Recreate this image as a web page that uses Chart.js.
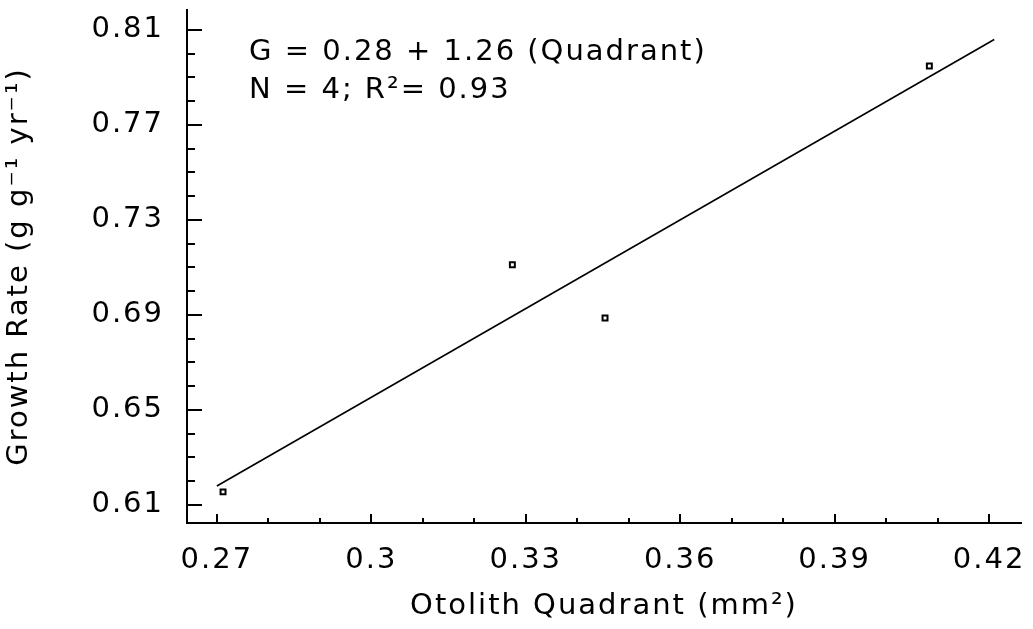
<!DOCTYPE html>
<html>
<head>
<meta charset="utf-8">
<script src="https://cdn.jsdelivr.net/npm/chart.js@4/dist/chart.umd.min.js"></script>
<style>
  html, body { margin: 0; padding: 0; background: #fff; }
  canvas { display: block; }
</style>
</head>
<body>
<canvas id="chart-growth" width="1033" height="629"></canvas>
<script>
// values
const quadrant = [0.2712, 0.3274, 0.3454, 0.4084];
const growth = [0.6155, 0.7111, 0.6887, 0.7948];
const fitQuadrant = [0.27, 0.421];
const fitGrowth = [0.618, 0.806];

const xTickValues = [0.27, 0.30, 0.33, 0.36, 0.39, 0.42];
const xTickLabels = ['0.27', '0.3', '0.33', '0.36', '0.39', '0.42'];
const yTickValues = [0.61, 0.65, 0.69, 0.73, 0.77, 0.81];
const yTickLabels = ['0.61', '0.65', '0.69', '0.73', '0.77', '0.81'];

const noteLines = ['G = 0.28 + 1.26 (Quadrant)', 'N = 4; R\u00B2= 0.93'];

const FONT = { family: "'DejaVu Sans', sans-serif", size: 29, weight: 'normal' };
const SPACING = '2px';

const close = (a, b) => Math.abs(a - b) < 1e-6;

// every 0.01 between first and last major tick
function minorTicks(majors) {
    const out = [];
    const first = Math.round(majors[0] * 100);
    const last = Math.round(majors[majors.length - 1] * 100);
    for (let i = first; i <= last; i++) out.push({ value: i / 100 });
    return out;
}

function labelFor(values, labels, v) {
    const i = values.findIndex(m => close(m, v));
    return i === -1 ? '' : labels[i];
}

// inward tick marks + the equation text
const decor = {
    id: 'decor',
    beforeDraw(chart) {
        chart.ctx.letterSpacing = SPACING;
    },
    afterDraw(chart) {
        const { ctx, chartArea, scales } = chart;
        ctx.save();
        ctx.strokeStyle = '#000';
        ctx.lineWidth = 2;
        ctx.beginPath();
        scales.x.ticks.forEach(t => {
            const px = Math.round(scales.x.getPixelForValue(t.value));
            const major = xTickValues.some(m => close(m, t.value));
            ctx.moveTo(px, chartArea.bottom);
            ctx.lineTo(px, chartArea.bottom - (major ? 9 : 5));
        });
        scales.y.ticks.forEach(t => {
            const py = Math.round(scales.y.getPixelForValue(t.value));
            const major = yTickValues.some(m => close(m, t.value));
            ctx.moveTo(chartArea.left, py);
            ctx.lineTo(chartArea.left + (major ? 15 : 8), py);
        });
        ctx.stroke();

        ctx.fillStyle = '#000';
        ctx.font = `${FONT.weight} ${FONT.size}px ${FONT.family}`;
        ctx.letterSpacing = SPACING;
        ctx.textAlign = 'left';
        ctx.textBaseline = 'middle';
        ctx.fillText(noteLines[0], chartArea.left + 62, chartArea.top + 42);
        ctx.fillText(noteLines[1], chartArea.left + 62, chartArea.top + 80);
        ctx.restore();
    },
};

const ctx = document.getElementById('chart-growth').getContext('2d');
new Chart(ctx, {
    type: 'scatter',
    data: {
        datasets: [
            {
                data: quadrant.map((x, i) => ({ x, y: growth[i] })),
                pointStyle: 'rect',
                pointRadius: 3.5,
                borderColor: '#000',
                backgroundColor: '#fff',
                borderWidth: 2,
            },
            {
                type: 'line',
                data: fitQuadrant.map((x, i) => ({ x, y: fitGrowth[i] })),
                borderColor: '#000',
                borderWidth: 1.6,
                pointRadius: 0,
                fill: false,
            },
        ],
    },
    options: {
        responsive: false,
        animation: false,
        devicePixelRatio: 1,
        layout: { padding: { top: 10, right: 12, left: 0, bottom: 0 } },
        plugins: { legend: { display: false }, tooltip: { enabled: false } },
        scales: {
            x: {
                type: 'linear',
                min: 0.2642,
                max: 0.4262,
                afterBuildTicks(scale) { scale.ticks = minorTicks(xTickValues); },
                afterFit(scale) {
                    scale.height = 106;
                    scale.paddingLeft = 0;
                    scale.paddingRight = 0;
                },
                grid: { display: false, drawTicks: false },
                border: { display: true, color: '#000', width: 2 },
                ticks: {
                    color: '#000',
                    font: FONT,
                    padding: 20,
                    autoSkip: false,
                    maxRotation: 0,
                    callback: v => labelFor(xTickValues, xTickLabels, v),
                },
                title: {
                    display: true,
                    text: 'Otolith Quadrant (mm\u00B2)',
                    color: '#000',
                    font: FONT,
                    padding: { top: 0, bottom: 5 },
                },
            },
            y: {
                type: 'linear',
                min: 0.6024,
                max: 0.8184,
                afterBuildTicks(scale) { scale.ticks = minorTicks(yTickValues); },
                afterFit(scale) {
                    scale.width = 187;
                    scale.paddingTop = 0;
                    scale.paddingBottom = 0;
                },
                grid: { display: false, drawTicks: false },
                border: { display: true, color: '#000', width: 2 },
                ticks: {
                    color: '#000',
                    font: FONT,
                    padding: 23,
                    autoSkip: false,
                    callback: v => labelFor(yTickValues, yTickLabels, v),
                },
                title: {
                    display: true,
                    text: 'Growth Rate (g g\u207B\u00B9 yr\u207B\u00B9)',
                    color: '#000',
                    font: FONT,
                    padding: { top: 2, bottom: 0 },
                },
            },
        },
    },
    plugins: [decor],
});
</script>
</body>
</html>
